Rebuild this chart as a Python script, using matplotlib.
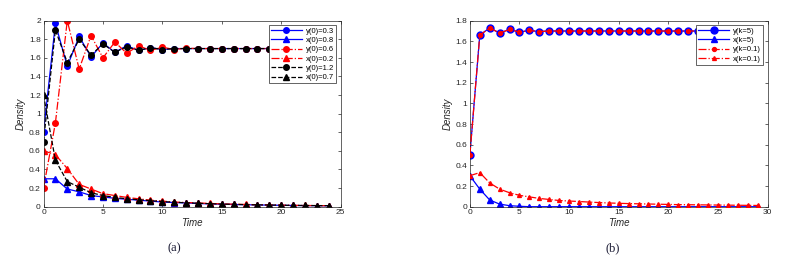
import numpy as np
import matplotlib
matplotlib.use('Agg')
import matplotlib.pyplot as plt

# ---------------- panel (a) data ----------------
t_a = np.arange(0, 25)
y_blue = [0.80, 1.97, 1.51, 1.83, 1.61, 1.76, 1.66, 1.73, 1.68, 1.71, 1.69, 1.70, 1.70,
          1.70, 1.70, 1.70, 1.70, 1.70, 1.70, 1.70, 1.70, 1.70, 1.70, 1.70, 1.70]
x_blue = [0.30, 0.30, 0.19, 0.16, 0.12, 0.105, 0.09, 0.08, 0.07, 0.06, 0.05, 0.045, 0.04,
          0.035, 0.03, 0.027, 0.024, 0.021, 0.019, 0.017, 0.015, 0.013, 0.012, 0.011, 0.01]
y_red = [0.20, 0.90, 2.00, 1.48, 1.84, 1.60, 1.77, 1.65, 1.73, 1.68, 1.715, 1.69, 1.705,
         1.70, 1.70, 1.70, 1.70, 1.70, 1.70, 1.70, 1.70, 1.70, 1.70, 1.70, 1.70]
x_red = [0.60, 0.56, 0.41, 0.24, 0.19, 0.14, 0.12, 0.10, 0.085, 0.07, 0.06, 0.05, 0.045,
         0.04, 0.035, 0.03, 0.027, 0.024, 0.021, 0.019, 0.017, 0.015, 0.013, 0.012, 0.011]
y_black = [0.70, 1.90, 1.55, 1.80, 1.63, 1.75, 1.66, 1.72, 1.68, 1.71, 1.69, 1.70, 1.70,
           1.70, 1.70, 1.70, 1.70, 1.70, 1.70, 1.70, 1.70, 1.70, 1.70, 1.70, 1.70]
x_black = [1.20, 0.50, 0.27, 0.21, 0.15, 0.12, 0.10, 0.085, 0.075, 0.065, 0.055, 0.048, 0.042,
           0.037, 0.032, 0.028, 0.025, 0.022, 0.02, 0.018, 0.016, 0.014, 0.013, 0.012, 0.011]

# ---------------- panel (b) data ----------------
t_b = np.arange(0, 30)
y_k5 = [0.50, 1.66, 1.73, 1.68, 1.715, 1.69, 1.705, 1.695, 1.70, 1.70] + [1.70] * 20
x_k5 = [0.30, 0.17, 0.065, 0.025, 0.01, 0.004] + [0.0] * 24
y_k01 = list(y_k5)
x_k01 = [0.30, 0.33, 0.23, 0.17, 0.135, 0.11, 0.095, 0.08, 0.07, 0.06, 0.055, 0.05, 0.045,
         0.04, 0.036, 0.033, 0.03, 0.028, 0.026, 0.024, 0.022, 0.02, 0.019, 0.018, 0.017,
         0.016, 0.015, 0.014, 0.013, 0.012]

plt.rcParams['font.family'] = ['Liberation Sans', 'DejaVu Sans']

fig = plt.figure(figsize=(7.91, 2.65), dpi=100)
ax1 = fig.add_axes([0.055, 0.22, 0.3757, 0.702])
ax2 = fig.add_axes([0.594, 0.22, 0.3764, 0.702])

ms = 4
ax1.plot(t_a, y_blue, '-o', color='blue', lw=0.9, ms=ms, label='y(0)=0.3')
ax1.plot(t_a, x_blue, '-^', color='blue', lw=0.9, ms=ms, label='x(0)=0.8')
ax1.plot(t_a, y_red, '-.o', color='red', lw=0.9, ms=ms, label='y(0)=0.6')
ax1.plot(t_a, x_red, '-.^', color='red', lw=0.9, ms=ms, label='x(0)=0.2')
ax1.plot(t_a, y_black, '--o', color='black', lw=0.9, ms=ms, label='y(0)=1.2')
ax1.plot(t_a, x_black, '--^', color='black', lw=0.9, ms=ms, label='x(0)=0.7')
ax1.set_xlim(0, 25)
ax1.set_ylim(0, 2)
ax1.set_xticks(np.arange(0, 26, 5))
ax1.set_yticks(np.arange(0, 2.01, 0.2))
ax1.set_yticklabels(['0', '0.2', '0.4', '0.6', '0.8', '1', '1.2', '1.4', '1.6', '1.8', '2'])

ax2.plot(t_b, y_k5, '-o', color='blue', lw=0.9, ms=5, label='y(k=5)')
ax2.plot(t_b, x_k5, '-^', color='blue', lw=0.9, ms=5, label='x(k=5)')
ax2.plot(t_b, y_k01, '-.o', color='red', lw=0.9, ms=2.8, label='y(k=0.1)', zorder=3)
ax2.plot(t_b, x_k01, '-.^', color='red', lw=0.9, ms=2.8, label='x(k=0.1)', zorder=3)
ax2.set_xlim(0, 30)
ax2.set_ylim(0, 1.8)
ax2.set_xticks(np.arange(0, 31, 5))
ax2.set_yticks(np.arange(0, 1.81, 0.2))
ax2.set_yticklabels(['0', '0.2', '0.4', '0.6', '0.8', '1', '1.2', '1.4', '1.6', '1.8'])

for ax in (ax1, ax2):
    ax.tick_params(direction='in', length=2.5, width=0.5, labelsize=6, colors='#262626',
                   top=True, right=True, pad=2)
    for s in ax.spines.values():
        s.set_linewidth(0.5)
        s.set_color('#262626')
    ax.set_xlabel('Time', fontsize=7, style='italic', labelpad=1, color='#262626')
    ax.set_ylabel('Density', fontsize=7, style='italic', labelpad=2, color='#262626')
    leg = ax.legend(loc='upper right', fontsize=5.5, frameon=True, fancybox=False,
                    edgecolor='#262626', framealpha=1, borderpad=0.3, labelspacing=0.25,
                    handlelength=4, handletextpad=0.5, borderaxespad=0.6)
    leg.get_frame().set_linewidth(0.5)

fig.text(0.221, 0.064, '(a)', fontsize=9, family='Liberation Serif', color='#1a1a33',
         ha='center', va='center')
fig.text(0.775, 0.064, '(b)', fontsize=9, family='Liberation Serif', color='#1a1a33',
         ha='center', va='center')

fig.savefig('out.png', dpi=100, facecolor='white')
